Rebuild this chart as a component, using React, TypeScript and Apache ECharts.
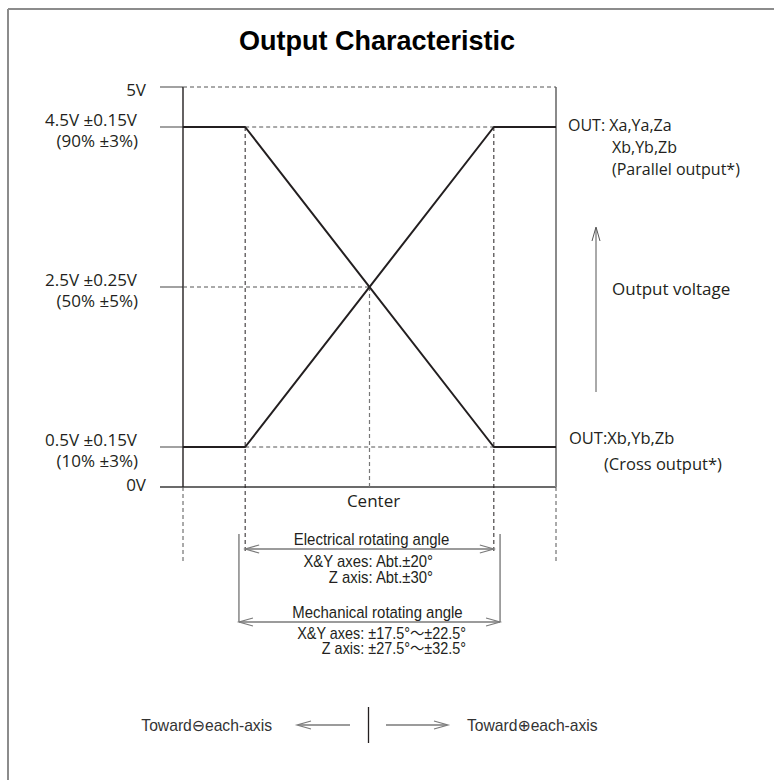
import { useEffect, useRef } from "react";
import * as echarts from "echarts";

// ---- data ----
const angleKnots = [-30, -20, 20, 30]; // degrees, x positions of the curve knots
const parallelOutput = [0.5, 0.5, 4.5, 4.5]; // V
const crossOutput = [4.5, 4.5, 0.5, 0.5]; // V
const angleRange = [-30, 30];
const voltageRange = [0, 5];
const voltageLevels = [5, 4.5, 2.5, 0.5, 0];
const voltageLabels = ["5V", "4.5V ±0.15V", "2.5V ±0.25V", "0.5V ±0.15V", "0V"];
const percentLabels = ["", "(90% ±3%)", "(50% ±5%)", "(10% ±3%)", ""];
const electricalAngle = [-20, 20];
const mechanicalAngle = [-21, 21];
const centerAngle = 0;
const centerVoltage = 2.5;
const electricalTitle = "Electrical rotating angle";
const electricalNotes = ["X&Y axes: Abt.±20°", "Z axis: Abt.±30°"];
const mechanicalTitle = "Mechanical rotating angle";
const mechanicalNotes = ["X&Y axes: ±17.5°～±22.5°", "Z axis: ±27.5°～±32.5°"];
const parallelLabels = ["OUT: Xa,Ya,Za", "Xb,Yb,Zb", "(Parallel output*)"];
const crossLabels = ["OUT:Xb,Yb,Zb", "(Cross output*)"];
const titleText = "Output Characteristic";
const directionLabels = ["Toward⊖each-axis", "Toward⊕each-axis"];

const INK = "#231f20";
const GUIDE = "#555555";
const ARROW = "#7a7a7a";
const HUMAN = "'Open Sans', 'Noto Sans', 'DejaVu Sans', sans-serif";
const GROT = "'Liberation Sans', Arial, 'DejaVu Sans', 'Noto Sans CJK JP', sans-serif";

export default function App() {
  const ref = useRef<HTMLDivElement>(null);

  useEffect(() => {
    document.body.style.margin = "0";
    const chart = echarts.init(ref.current!, null, { renderer: "svg" });
    chart.setOption({
      animation: false,
      backgroundColor: "#ffffff",
      grid: { left: 183, top: 87, width: 373, height: 400 },
      xAxis: { type: "value", min: angleRange[0], max: angleRange[1], show: false },
      yAxis: { type: "value", min: voltageRange[0], max: voltageRange[1], show: false },
      series: [
        {
          type: "line",
          name: "Parallel output",
          data: angleKnots.map((a, i) => [a, parallelOutput[i]]),
          symbol: "none",
          silent: true,
          z: 10,
          lineStyle: { color: INK, width: 2 },
        },
        {
          type: "line",
          name: "Cross output",
          data: angleKnots.map((a, i) => [a, crossOutput[i]]),
          symbol: "none",
          silent: true,
          z: 10,
          lineStyle: { color: INK, width: 2 },
        },
      ],
    });

    const px = (a: number, v: number) =>
      chart.convertToPixel({ gridIndex: 0 }, [a, v]) as number[];
    const X = (a: number) => px(a, 0)[0];
    const Y = (v: number) => px(0, v)[1];

    const els: any[] = [];
    const line = (x1: number, y1: number, x2: number, y2: number, stroke: string, lw: number, dash?: number[]) => {
      els.push({
        type: "line",
        silent: true,
        z: 1,
        shape: { x1, y1, x2, y2 },
        style: { stroke, lineWidth: lw, lineDash: dash || null },
      });
    };
    const chevron = (tx: number, ty: number, dx: number, dy: number, stroke: string, lw: number) => {
      const L = 14;
      const W = 4;
      const bx = tx - dx * L;
      const by = ty - dy * L;
      const qx = -dy * W;
      const qy = dx * W;
      els.push({
        type: "polyline",
        silent: true,
        z: 1,
        shape: { points: [[bx + qx, by + qy], [tx, ty], [bx - qx, by - qy]] },
        style: { stroke, lineWidth: lw, fill: null },
      });
    };
    const text = (
      s: string, x: number, y: number, align: string, size: number, family: string,
      opts: { weight?: string; scaleX?: number; color?: string } = {}
    ) => {
      els.push({
        type: "text",
        silent: true,
        z: 3,
        x,
        y,
        scaleX: opts.scaleX ?? 1,
        style: {
          text: s,
          fill: opts.color || INK,
          fontSize: size,
          fontFamily: family,
          fontWeight: opts.weight || "normal",
          align,
          verticalAlign: "middle",
          textAlign: align,
          textVerticalAlign: "middle",
        },
      });
    };

    const dash = [4, 3];
    const xl = X(angleRange[0]);
    const xr = X(angleRange[1]);
    const tickStart = xl - 23;

    // frame
    line(8, 9, 774, 9, "#8c8c8c", 2);
    line(8, 9, 8, 780, "#8c8c8c", 2);

    // title
    text(titleText, 377, 41, "center", 27, GROT, { weight: "bold", color: "#000" });

    // left ticks
    voltageLevels.forEach((v) => {
      if (v === 0) return;
      line(tickStart, Y(v), xl, Y(v), "#6e6e6e", 1.3);
    });
    // 0V baseline
    line(tickStart, Y(0), xr, Y(0), "#3a3a3a", 1.4);
    // left axis
    line(xl, Y(voltageRange[1]), xl, Y(0), INK, 1.4);
    // right line
    line(xr, Y(voltageRange[1]), xr, Y(0), "#8a8a8a", 2);

    // dashed guides
    line(xl, Y(5), xr, Y(5), GUIDE, 1, dash);
    line(X(electricalAngle[0]), Y(4.5), X(electricalAngle[1]), Y(4.5), GUIDE, 1, dash);
    line(X(electricalAngle[0]), Y(0.5), X(electricalAngle[1]), Y(0.5), GUIDE, 1, dash);
    line(xl, Y(centerVoltage), X(centerAngle), Y(centerVoltage), GUIDE, 1, dash);
    line(X(centerAngle), Y(centerVoltage), X(centerAngle), Y(0), "#777", 1.2, dash);
    electricalAngle.forEach((a) => line(X(a), Y(4.5), X(a), 553, INK, 1, dash));
    [angleRange[0], angleRange[1]].forEach((a) => line(X(a), Y(0), X(a), 563, GUIDE, 1, dash));

    // left labels
    voltageLabels.forEach((lab, i) => {
      const v = voltageLevels[i];
      const y = Y(v);
      if (percentLabels[i]) {
        text(lab, 137, y - 8, "right", 17, HUMAN);
        text(percentLabels[i], 138, y + 13, "right", 17, HUMAN);
      } else {
        text(lab, 146, v === 0 ? y - 3 : y + 2, "right", 17, HUMAN);
      }
    });

    // right labels
    const y45 = Y(4.5);
    text(parallelLabels[0], 568, y45 - 2, "left", 16, HUMAN);
    text(parallelLabels[1], 612, y45 + 20, "left", 16, HUMAN);
    text(parallelLabels[2], 612, y45 + 42, "left", 16, HUMAN);
    const y05 = Y(0.5);
    text(crossLabels[0], 569, y05 - 10, "left", 16.5, HUMAN);
    text(crossLabels[1], 604, y05 + 16, "left", 16.5, HUMAN);

    // output voltage arrow
    line(596, 228, 596, 392, "#555", 1);
    chevron(596, 227, 0, -1, "#555", 1);
    text("Output voltage", 612, Y(centerVoltage) + 1, "left", 17, HUMAN);

    // center label
    text("Center", X(centerAngle) + 4, 500, "center", 17, HUMAN);

    // electrical rotating angle
    const ea0 = X(electricalAngle[0]);
    const ea1 = X(electricalAngle[1]);
    const ey = 549;
    line(ea0, ey, ea1, ey, ARROW, 1.4);
    chevron(ea0, ey, -1, 0, ARROW, 1.2);
    chevron(ea1, ey, 1, 0, ARROW, 1.2);
    text(electricalTitle, (ea0 + ea1) / 2 + 2, 539, "center", 17, GROT, { scaleX: 0.88 });
    text(electricalNotes[0], 433, 561, "right", 16, GROT, { scaleX: 0.93 });
    text(electricalNotes[1], 433, 577, "right", 16, GROT, { scaleX: 0.93 });

    // mechanical rotating angle
    const ma0 = X(mechanicalAngle[0]);
    const ma1 = X(mechanicalAngle[1]);
    const my = 622;
    line(ma0, 534, ma0, my, "#666", 1.2);
    line(ma1, 534, ma1, my, "#666", 1.2);
    line(ma0, my, ma1, my, ARROW, 1.4);
    chevron(ma0, my, -1, 0, ARROW, 1.2);
    chevron(ma1, my, 1, 0, ARROW, 1.2);
    text(mechanicalTitle, (ma0 + ma1) / 2 + 8, 612, "center", 17, GROT, { scaleX: 0.88 });
    text(mechanicalNotes[0], 466, 633, "right", 16, GROT, { scaleX: 0.9 });
    text(mechanicalNotes[1], 466, 648, "right", 16, GROT, { scaleX: 0.9 });

    // direction indicator
    const dy = 725;
    text(directionLabels[0], 272, dy, "right", 16, GROT, { scaleX: 0.98, color: "#333" });
    line(298, dy, 350, dy, ARROW, 1.4);
    chevron(297, dy, -1, 0, ARROW, 1.2);
    line(X(centerAngle) - 1, 707, X(centerAngle) - 1, 743, INK, 1.3);
    line(386, dy, 447, dy, ARROW, 1.4);
    chevron(448, dy, 1, 0, ARROW, 1.2);
    text(directionLabels[1], 467, dy, "left", 16, GROT, { scaleX: 0.98, color: "#333" });

    chart.setOption({ graphic: { elements: els } });

    return () => chart.dispose();
  }, []);

  return <div ref={ref} style={{ width: 774, height: 780, position: "absolute", left: 0, top: 0 }} />;
}
